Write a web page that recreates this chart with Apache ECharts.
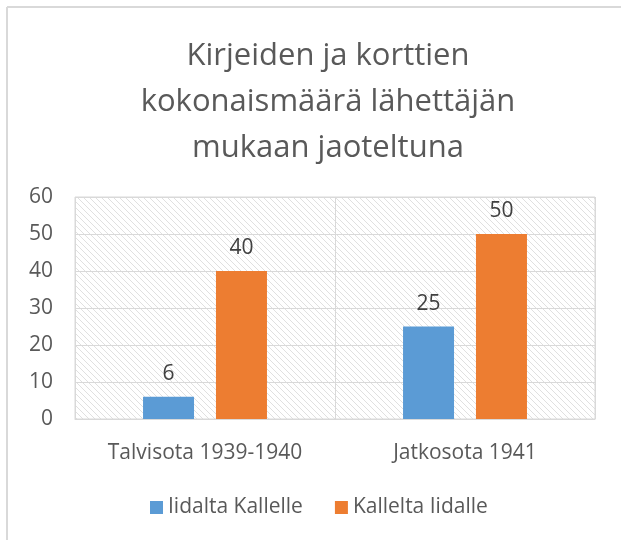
<!DOCTYPE html>
<html><head><meta charset="utf-8">
<script src="https://cdn.jsdelivr.net/npm/echarts@6/dist/echarts.min.js"></script>
<style>html,body{margin:0;padding:0;background:#fff}#c{width:621px;height:540px}</style>
</head><body><div id="c"></div>
<script>
const titleText = 'Kirjeiden ja korttien\nkokonaismäärä lähettäjän\nmukaan jaoteltuna';
const categories = ['Talvisota 1939-1940', 'Jatkosota 1941'];
const seriesNames = ['Iidalta Kallelle', 'Kallelta Iidalle'];
const iidaltaKallelle = [6, 25];
const kalleltaIidalle = [40, 50];

function hatch() {
  const c = document.createElement('canvas');
  c.width = 6; c.height = 6;
  const g = c.getContext('2d');
  g.fillStyle = '#ffffff'; g.fillRect(0, 0, 6, 6);
  g.strokeStyle = '#e0e0e0'; g.lineWidth = 1;
  g.beginPath();
  g.moveTo(-1, -1); g.lineTo(7, 7);
  g.moveTo(-7, -1); g.lineTo(1, 7);
  g.moveTo(5, -1); g.lineTo(13, 7);
  g.stroke();
  return c;
}

const font = '"Open Sans", "Noto Sans", sans-serif';
const chart = echarts.init(document.getElementById('c'), null, {renderer: 'canvas'});
chart.setOption({
  animation: false,
  title: {
    text: titleText, left: 323, top: 28,
    textAlign: 'center',
    textStyle: {fontFamily: font, fontSize: 31, fontWeight: 'normal', color: '#595959', lineHeight: 46}
  },
  grid: {
    left: 75, right: 26, top: 197, bottom: 121,
    show: true,
    backgroundColor: {image: hatch(), repeat: 'repeat'},
    borderColor: '#d9d9d9', borderWidth: 1
  },
  legend: {
    bottom: 17, left: 145, itemWidth: 13, itemHeight: 13, itemGap: 32,
    icon: 'rect',
    textStyle: {fontFamily: font, fontSize: 21, color: '#595959'},
    data: seriesNames
  },
  xAxis: {
    type: 'category', data: categories,
    axisLine: {lineStyle: {color: '#d9d9d9'}},
    axisTick: {show: false},
    splitLine: {show: true, lineStyle: {color: '#d9d9d9', width: 1}},
    axisLabel: {fontFamily: font, fontSize: 21, color: '#595959', margin: 24}
  },
  yAxis: {
    type: 'value', min: 0, max: 60, interval: 10,
    axisLine: {show: false}, axisTick: {show: false},
    splitLine: {lineStyle: {color: '#d9d9d9', width: 1}},
    axisLabel: {fontFamily: font, fontSize: 21, color: '#595959', margin: 22}
  },
  series: [
    {
      name: seriesNames[0], type: 'bar', data: iidaltaKallelle,
      barWidth: 51, barGap: '43%',
      itemStyle: {color: '#5b9bd5'},
      label: {show: true, position: 'top', distance: 12, fontFamily: font, fontSize: 21, color: '#404040'}
    },
    {
      name: seriesNames[1], type: 'bar', data: kalleltaIidalle,
      barWidth: 51, barGap: '43%',
      itemStyle: {color: '#ed7d31'},
      label: {show: true, position: 'top', distance: 12, fontFamily: font, fontSize: 21, color: '#404040'}
    }
  ],
  graphic: [
    {type: 'line', shape: {x1: 7, y1: 7, x2: 621, y2: 7}, style: {stroke: '#d9d9d9', lineWidth: 2}, silent: true},
    {type: 'line', shape: {x1: 7, y1: 7, x2: 7, y2: 540}, style: {stroke: '#d9d9d9', lineWidth: 2}, silent: true}
  ]
});
</script></body></html>
